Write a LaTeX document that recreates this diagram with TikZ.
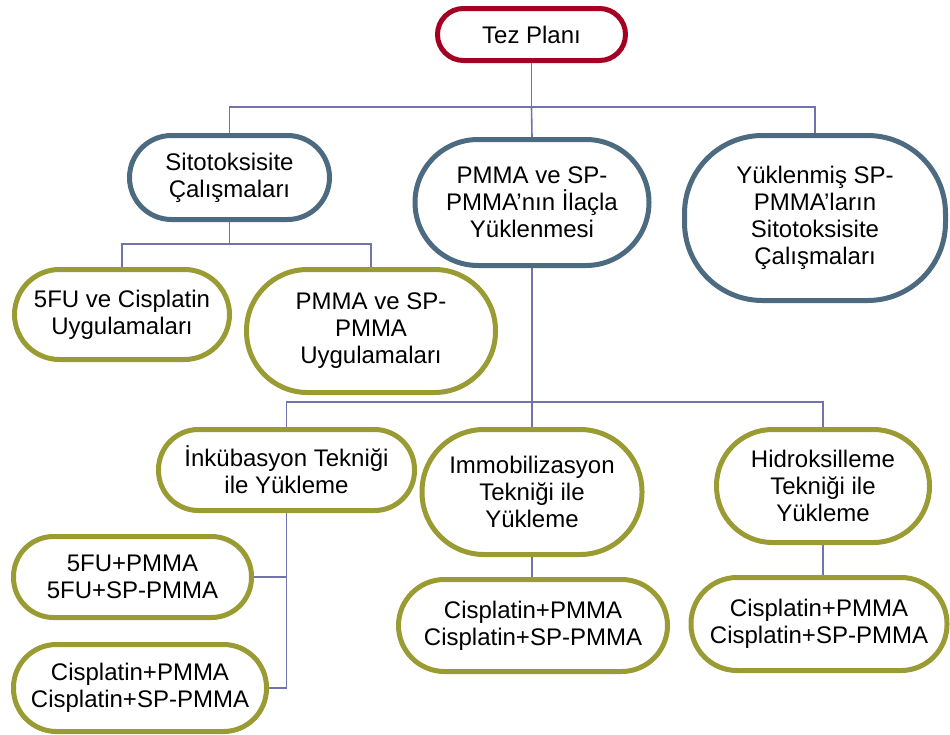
\documentclass[tikz,border=0pt]{standalone}
\usepackage{fontspec}
\setmainfont{Liberation Sans}
\usepackage{tikz}
\usetikzlibrary{positioning}
\usepackage{xcolor}
\definecolor{planred}{HTML}{A50021}
\definecolor{slateblue}{HTML}{4D6B80}
\definecolor{olive}{HTML}{9B9B34}
\definecolor{linkblue}{HTML}{7373AB}
\tikzset{
  pill/.style={draw, fill=white, line width=5pt, align=center, inner sep=0pt,
    font=\fontsize{24}{27}\selectfont},
  redpill/.style={pill, draw=planred},
  bluepill/.style={pill, draw=slateblue},
  olivepill/.style={pill, draw=olive},
  link/.style={draw=linkblue, line width=1.6pt}
}

\begin{document}
\begin{tikzpicture}[x=1pt,y=-1pt]
\useasboundingbox (0,0) rectangle (950,734);
% top
\node[redpill, minimum width=188pt, minimum height=52pt, rounded corners=26pt] (plan) at (531.5,34.5) {Tez Planı};
% level 1
\node[bluepill, minimum width=200pt, minimum height=84pt, rounded corners=42pt] (sito) at (229.5,177.5) {Sitotoksisite\\Çalışmaları};
\node[bluepill, minimum width=234pt, minimum height=126pt, rounded corners=63pt] (yukle) at (532,202.5) {PMMA ve SP-\\PMMA’nın İlaçla\\Yüklenmesi};
\node[bluepill, minimum width=261pt, minimum height=165pt, rounded corners=78pt] (ysito) at (815,218) {Yüklenmiş SP-\\PMMA’ların\\Sitotoksisite\\Çalışmaları};
% under sito
\node[olivepill, minimum width=215pt, minimum height=90pt, rounded corners=45pt] (uyg1) at (122,314.5) {5FU ve Cisplatin\\Uygulamaları};
\node[olivepill, minimum width=249pt, minimum height=123pt, rounded corners=61pt] (uyg2) at (371,331) {PMMA ve SP-\\PMMA\\Uygulamaları};
% under yukle
\node[olivepill, minimum width=256pt, minimum height=81pt, rounded corners=40pt] (inku) at (286.5,470) {İnkübasyon Tekniği\\ile Yükleme};
\node[olivepill, minimum width=220pt, minimum height=125pt, rounded corners=62pt] (immo) at (532,492) {Immobilizasyon\\Tekniği ile\\Yükleme};
\node[olivepill, minimum width=213pt, minimum height=113pt, rounded corners=56pt] (hidro) at (823,486) {Hidroksilleme\\Tekniği ile\\Yükleme};
% leaves
\node[olivepill, minimum width=238pt, minimum height=81pt, rounded corners=40pt] (inkuA) at (132.5,577) {5FU+PMMA\\5FU+SP-PMMA};
\node[olivepill, minimum width=253pt, minimum height=87pt, rounded corners=43pt] (inkuB) at (140,688) {Cisplatin+PMMA\\Cisplatin+SP-PMMA};
\node[olivepill, minimum width=269pt, minimum height=92pt, rounded corners=46pt] (immoA) at (533,625.5) {Cisplatin+PMMA\\Cisplatin+SP-PMMA};
\node[olivepill, minimum width=256pt, minimum height=93pt, rounded corners=46pt] (hidroA) at (819,624) {Cisplatin+PMMA\\Cisplatin+SP-PMMA};
% buses
\coordinate (bus1) at (531.5,107);
\coordinate (bus2) at (229.5,244);
\coordinate (bus3) at (532,402);
\draw[link] (plan.south) -- (bus1);
\draw[link] (sito.north) |- (bus1) -| (ysito.north);
\draw[link] (bus1) -- (yukle.north);
\draw[link] (sito.south) -- (bus2);
\draw[link] (uyg1.north) |- (bus2) -| (uyg2.north);
\draw[link] (yukle.south) -- (bus3);
\draw[link] (inku.north) |- (bus3) -| (hidro.north);
\draw[link] (bus3) -- (immo.north);
\draw[link] (inku.south) |- (inkuA.east);
\draw[link] (inku.south) |- (inkuB.east);
\draw[link] (immo.south) -- (immo.south |- immoA.north);
\draw[link] (hidro.south) -- (hidro.south |- hidroA.north);
\end{tikzpicture}
\end{document}
